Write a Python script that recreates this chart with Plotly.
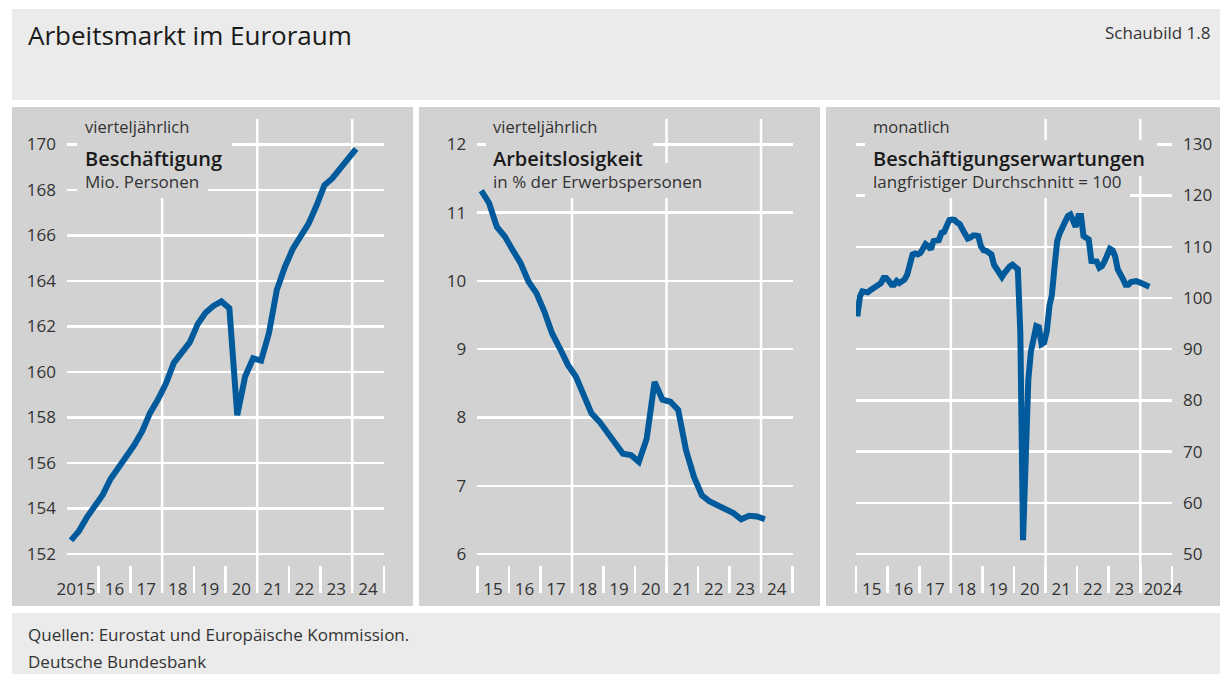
import pandas as pd
import plotly.graph_objects as go

W, H = 1220, 674

# ---------------- data ----------------
quarters = pd.period_range("2015Q1", "2024Q1", freq="Q")
employment = [152.6, 153.0, 153.6, 154.1, 154.6, 155.3, 155.8, 156.2, 156.8, 157.4, 158.2, 158.8,
              159.5, 160.4, 160.8, 161.3, 162.1, 162.6, 162.9, 163.1, 162.8, 158.1, 159.8, 160.6,
              160.5, 161.7, 163.6, 164.6, 165.4, 166.0, 166.5, 167.3, 168.2, 168.5, 168.9, 169.3,
              169.8]
unemployment = [11.32, 11.14, 10.79, 10.65, 10.45, 10.26, 9.99, 9.82, 9.55, 9.23, 9.01, 8.77,
                8.60, 8.33, 8.06, 7.94, 7.77, 7.60, 7.47, 7.45, 7.35, 7.69, 8.52, 8.26,
                8.23, 8.11, 7.52, 7.13, 6.86, 6.77, 6.72, 6.67, 6.60, 6.51, 6.56, 6.55,
                6.51]
months = pd.period_range("2015-01", "2024-04", freq="M")
expectations = [
    96.4, 100.3, 101.3, 101.1, 101.1, 101.5, 101.8, 102.2, 102.3, 102.9, 103.9, 103.9,   # 2015
    103.3, 102.6, 102.6, 103.3, 102.9, 103.1, 103.6, 104.6, 106.2, 108.5, 108.7, 108.5,  # 2016
    108.8, 109.5, 110.5, 110.1, 109.5, 111.1, 111.1, 111.3, 112.7, 112.9, 114.1, 115.2,  # 2017
    115.3, 115.2, 114.7, 114.4, 113.4, 112.1, 111.6, 111.8, 112.2, 112.2, 112.1, 110.1,  # 2018
    109.3, 109.2, 109.0, 108.5, 106.5, 105.6, 105.2, 104.1, 104.9, 105.7, 106.2, 106.5,  # 2019
    106.2, 105.6, 93.0, 52.7, 68.0, 84.0, 89.5, 92.5, 94.5, 94.3, 91.0, 91.3,            # 2020
    93.5, 98.5, 100.6, 106.2, 111.1, 112.7, 113.7, 114.7, 116.0, 116.3, 115.0, 113.9,    # 2021
    116.0, 116.0, 112.1, 111.8, 111.4, 107.2, 107.0, 107.1, 105.9, 106.2, 107.2, 108.5,  # 2022
    109.6, 109.3, 108.2, 105.6, 104.9, 103.7, 102.6, 102.6, 103.1, 103.3, 103.3, 103.1,  # 2023
    102.8, 102.6, 102.4, 102.2,                                                          # 2024
]

ticks_emp = [152, 154, 156, 158, 160, 162, 164, 166, 168, 170]
ticks_unemp = [6, 7, 8, 9, 10, 11, 12]
ticks_exp = [50, 60, 70, 80, 90, 100, 110, 120, 130]

years = list(range(2015, 2025))
grid_years = [2018, 2021, 2024]
labels1 = ["2015"] + [str(y)[2:] for y in years[1:]]
labels2 = [str(y)[2:] for y in years]
labels3 = [str(y)[2:] for y in years[:-1]] + ["2024"]

# ---------------- styling ----------------
BLUE = "#005a9b"
PANEL = "#d2d2d2"
HEAD = "#ebebeb"
GRID = "white"
GW = 2.5
FONT = "Open Sans"
TICKFONT = dict(family=FONT, size=17, color="#333333")

xq = quarters.to_timestamp(how="start") + pd.Timedelta(days=45)
xm = months.to_timestamp(how="start") + pd.Timedelta(days=14)

def px_x(p):
    return p / W

def px_y(p):
    return 1 - p / H

PLOT_TOP, PLOT_BOT = 119, 593
YDOM = [px_y(PLOT_BOT), px_y(PLOT_TOP)]
XRANGE = ["2014-12-31", "2025-01-02"]
PANELS = [("x", "y"), ("x2", "y2"), ("x3", "y3")]

mid = [f"{y}-07-01" for y in years]
vals1 = ["2015-04-14"] + mid[1:]
vals3 = mid[:-1] + ["2024-09-18"]

def xax(dom, anchor, minor_years, vals, text):
    return dict(domain=dom, anchor=anchor, type="date", range=XRANGE, automargin=False,
                tickmode="array", tickvals=vals, ticktext=text, ticks="",
                showgrid=False, showline=False, zeroline=False,
                ticklabelposition="inside", ticklabeloverflow="allow",
                ticklabelstandoff=-8, tickfont=TICKFONT, fixedrange=True,
                minor=dict(tickmode="array", tickvals=[f"{y}-01-01" for y in minor_years],
                           ticks="inside", ticklen=27, tickcolor=GRID, tickwidth=GW,
                           showgrid=False))

def yax(anchor, rng, vals, side="left"):
    return dict(domain=YDOM, anchor=anchor, range=rng, tickmode="array", tickvals=vals,
                automargin=False,
                showgrid=True, gridcolor=GRID, gridwidth=GW, ticks="", zeroline=False,
                showline=False, side=side, tickfont=TICKFONT, ticklabelstandoff=10,
                fixedrange=True)

fig = go.Figure()
fig.add_trace(go.Scatter(x=xq, y=employment, mode="lines", xaxis="x", yaxis="y",
                         line=dict(color=BLUE, width=6), hoverinfo="skip"))
fig.add_trace(go.Scatter(x=xq, y=unemployment, mode="lines", xaxis="x2", yaxis="y2",
                         line=dict(color=BLUE, width=6), hoverinfo="skip"))
fig.add_trace(go.Scatter(x=xm, y=expectations, mode="lines", xaxis="x3", yaxis="y3",
                         line=dict(color=BLUE, width=6), hoverinfo="skip"))

fig.update_layout(
    width=W, height=H, autosize=False, margin=dict(l=0, r=0, t=0, b=0, pad=0),
    paper_bgcolor="white", plot_bgcolor="rgba(0,0,0,0)", showlegend=False,
    font=dict(family=FONT, color="#222222"), hovermode=False,
    xaxis=xax([px_x(67), px_x(384)], "y", years[1:] + [2025], vals1, labels1),
    xaxis2=xax([px_x(477.3), px_x(792.7)], "y2", years + [2025], mid, labels2),
    xaxis3=xax([px_x(856), px_x(1172)], "y3", years + [2025], vals3, labels3),
    yaxis=yax("x", [150.29, 171.11], ticks_emp),
    yaxis2=yax("x2", [5.43, 12.37], ticks_unemp),
    yaxis3=yax("x3", [42.4, 134.94], ticks_exp, side="right"),
)

shapes = []
# background boxes
for (x0, y0, x1, y1, c) in [(12, 9, 1220, 100, HEAD),
                            (12, 107, 413, 606, PANEL),
                            (419, 107, 820, 606, PANEL),
                            (826, 107, 1220, 606, PANEL),
                            (12, 613, 1220, 674, HEAD)]:
    shapes.append(dict(type="rect", xref="paper", yref="paper", layer="below",
                       x0=px_x(x0), x1=px_x(x1), y0=px_y(y1), y1=px_y(y0),
                       fillcolor=c, line=dict(width=0)))

# vertical grid lines at selected years
for xa, ya in PANELS:
    for gy in grid_years:
        shapes.append(dict(type="line", xref=xa, yref=f"{ya} domain", layer="below",
                           x0=f"{gy}-01-01", x1=f"{gy}-01-01", y0=0, y1=1,
                           line=dict(color=GRID, width=GW)))
fig.update_layout(shapes=shapes)

annos = []
# masks behind the panel captions (grid lines interrupted)
masks = [(77, 119, 197, 140), (77, 140, 232, 176), (77, 163, 208, 198),
         (486, 119, 606, 140), (486, 140, 653, 176), (500, 163, 711, 198),
         (865, 119, 960, 140), (865, 140, 1157, 176), (865, 163, 1130, 198)]
for (x0, y0, x1, y1) in masks:
    annos.append(dict(xref="paper", yref="paper", x=px_x(x0), y=px_y(y0),
                      xanchor="left", yanchor="top", width=x1 - x0, height=y1 - y0,
                      text=" ", showarrow=False, bgcolor=PANEL, borderpad=0, borderwidth=0))

def txt(x, y, s, size, color="#222222", weight=None, anchor="left"):
    d = dict(xref="paper", yref="paper", x=px_x(x), y=px_y(y), text=s, showarrow=False,
             xanchor=anchor, yanchor="middle", borderpad=0,
             font=dict(family=FONT, size=size, color=color))
    if weight:
        d["font"]["weight"] = weight
    annos.append(d)

txt(27, 35, "Arbeitsmarkt im Euroraum", 26, "#1a1a1a")
txt(1211, 33, "Schaubild 1.8", 17, "#333333", anchor="right")
txt(27, 634, "Quellen: Eurostat und Europäische Kommission.", 17, "#333333")
txt(27, 661, "Deutsche Bundesbank", 17, "#333333")

for x0, t1, t2, t3 in [(84, "vierteljährlich", "Beschäftigung", "Mio. Personen"),
                       (492, "vierteljährlich", "Arbeitslosigkeit", "in % der Erwerbspersonen"),
                       (872, "monatlich", "Beschäftigungserwartungen",
                        "langfristiger Durchschnitt = 100")]:
    txt(x0, 126.7, t1, 16.5, "#333333")
    txt(x0, 158, t2, 20, "#1a1a1a", weight=600)
    txt(x0, 181, t3, 17, "#333333")

fig.update_layout(annotations=annos)

POST = (
    "var de=document.documentElement;de.style.margin='0';de.style.padding='0';"
    "de.style.overflow='hidden';"
    "var b=document.body;b.style.margin='0';b.style.padding='0';b.style.overflow='hidden';"
    "b.style.width='1220px';b.style.height='674px';"
    "var d=document.getElementsByClassName('plotly-graph-div')[0];"
    "if(d){d.style.position='absolute';d.style.left='0px';d.style.top='0px';}"
)
fig.write_html("out.html",
               config={"displayModeBar": False, "responsive": False, "staticPlot": True},
               post_script=POST)
